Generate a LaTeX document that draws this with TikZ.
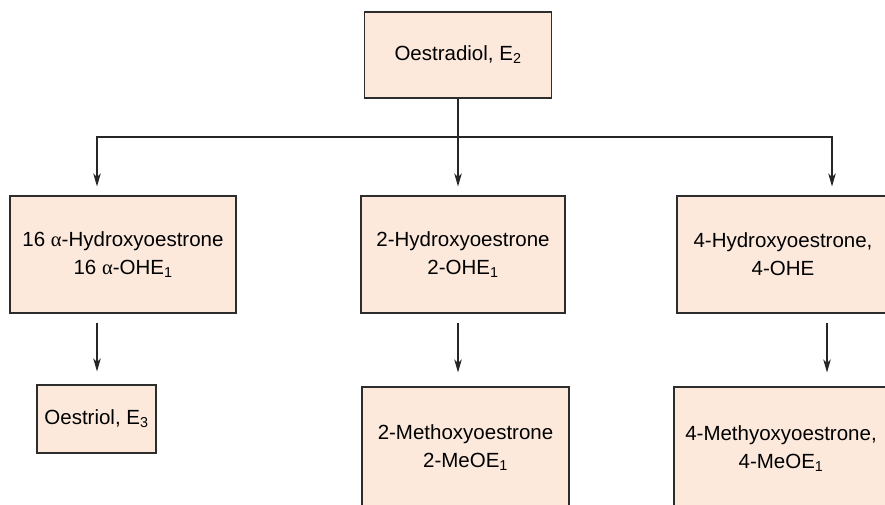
\documentclass[tikz,border=0pt]{standalone}
\usepackage{fontspec}
\setmainfont{Liberation Sans}
\newfontfamily\greekfont{Liberation Serif}
\usetikzlibrary{arrows.meta}
\definecolor{peach}{RGB}{252,233,220}
\definecolor{edgegray}{RGB}{45,45,45}

\begin{document}
\begin{tikzpicture}[x=1pt,y=-1pt,
	box/.style={draw=edgegray,fill=peach,line width=1.1pt,align=center,inner sep=0pt,
		font=\fontsize{20.5}{28}\selectfont},
	link/.style={draw=black!85,line width=1.1pt},
	>={Stealth[length=13pt,width=7.5pt,inset=3.5pt]}]
		\clip (0,0) rectangle (885,505);
		% top
		\node[box,minimum width=187pt,minimum height=86pt] (E2) at (458,55) {Oestradiol, E\textsubscript{2}};
		% second row
		\node[box,minimum width=226pt,minimum height=117pt] (OHE16) at (123,254.5) {16 {\greekfont α}-Hydroxyoestrone\\16 {\greekfont α}-OHE\textsubscript{1}};
		\node[box,minimum width=204pt,minimum height=117pt] (OHE2) at (463,254.5) {2-Hydroxyoestrone\\2-OHE\textsubscript{1}};
		\node[box,minimum width=212pt,minimum height=117pt] (OHE4) at (783,254.5) {4-Hydroxyoestrone,\\4-OHE};
		% third row
		\node[box,minimum width=119pt,minimum height=68pt] (E3) at (96.5,419) {Oestriol, E\textsubscript{3}};
		\node[box,minimum width=207pt,minimum height=122pt] (MeOE2) at (465.5,448) {2-Methoxyoestrone\\2-MeOE\textsubscript{1}};
		\node[box,minimum width=214pt,minimum height=124pt] (MeOE4) at (781,449) {4-Methyoxyoestrone,\\4-MeOE\textsubscript{1}};
		%
		\coordinate (split) at (458,137);
		\coordinate (colL) at (97,0);
		\coordinate (colM) at (458,0);
		\coordinate (colR) at (832,0);
		\coordinate (colR') at (827,0);
		%
		% branching arrows
		\path[link] (E2.south) -- (split);
		\path[link,->] (split) -| ([yshift=9pt]OHE16.north -| colL);
		\path[link,->] (split) -- ([yshift=9pt]OHE2.north -| colM);
		\path[link,->] (split) -| ([yshift=9pt]OHE4.north -| colR);
		% vertical arrows
		\path[link,->] ([yshift=-9pt]OHE16.south -| colL) -- ([yshift=13pt]E3.north -| colL);
		\path[link,->] ([yshift=-9pt]OHE2.south -| colM) -- ([yshift=14pt]MeOE2.north -| colM);
		\path[link,->] ([yshift=-9pt]OHE4.south -| colR') -- ([yshift=14pt]MeOE4.north -| colR');
\end{tikzpicture}
\end{document}
